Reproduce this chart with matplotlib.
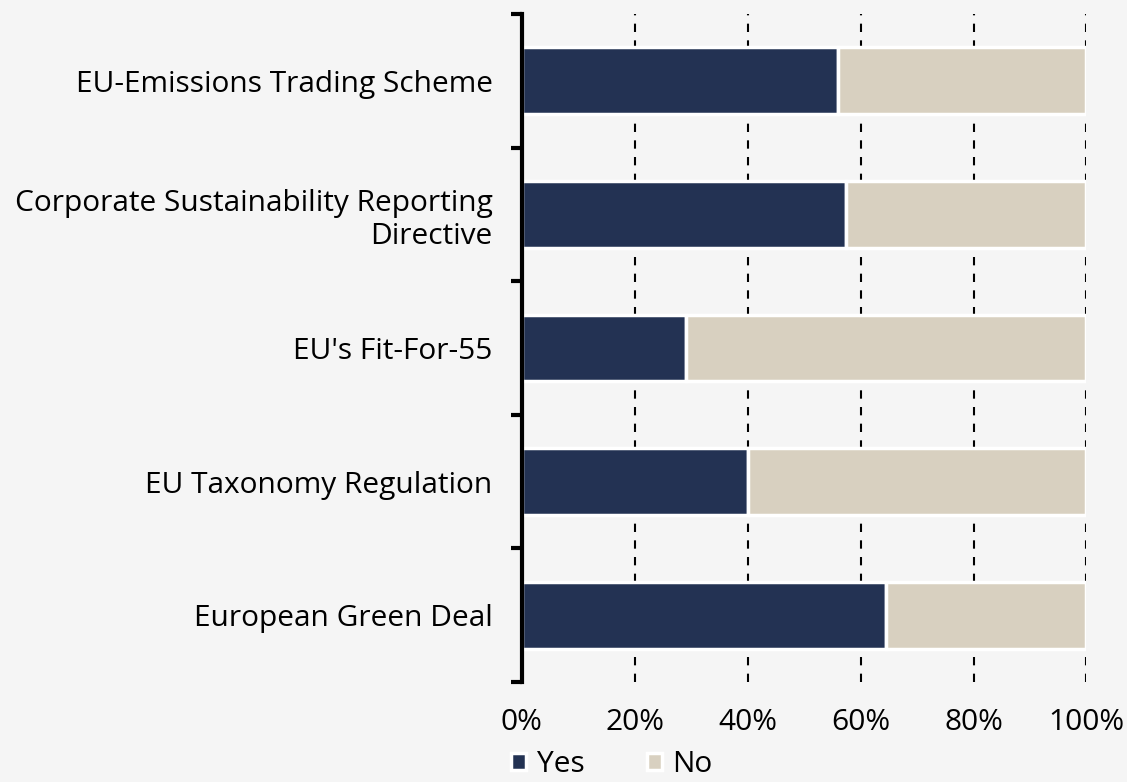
import matplotlib.pyplot as plt
import numpy as np
from matplotlib.ticker import FixedLocator, PercentFormatter

plt.rcParams['font.family'] = ['Open Sans', 'DejaVu Sans']

# datos (de arriba hacia abajo)
categorias = ['EU-Emissions Trading Scheme',
              'Corporate Sustainability Reporting\nDirective',
              "EU's Fit-For-55",
              'EU Taxonomy Regulation',
              'European Green Deal']
si = [56, 57.5, 29, 40, 64.5]
no = [100 - v for v in si]

color_si = '#233253'
color_no = '#d8d0c0'
fondo = '#f5f5f5'

fig = plt.figure(figsize=(11.27, 7.82), dpi=100, facecolor=fondo)
ax = fig.add_axes([0.463, 0.128, 0.501, 0.854], facecolor=fondo)

y = np.arange(len(categorias))[::-1]
ax.barh(y, si, height=0.5, color=color_si, edgecolor='white', linewidth=2.5,
        label='Yes', zorder=3)
ax.barh(y, no, left=si, height=0.5, color=color_no, edgecolor='white',
        linewidth=2.5, label='No', zorder=3)

ax.set_xlim(0, 100)
ax.set_ylim(-0.5, len(categorias) - 0.5)

# grilla punteada vertical
for xv in [20, 40, 60, 80, 100]:
    ax.axvline(xv, color='black', linestyle=(0, (4, 4)), linewidth=1.5,
               zorder=1)

for s in ['top', 'right', 'bottom']:
    ax.spines[s].set_visible(False)
ax.spines['left'].set_linewidth(3)
ax.spines['left'].set_zorder(4)

ax.set_xticks([0, 20, 40, 60, 80, 100])
ax.xaxis.set_major_formatter(PercentFormatter(decimals=0))
ax.tick_params(axis='x', length=0, pad=19, labelsize=21.5)

ax.set_yticks(y)
ax.set_yticklabels(categorias, fontsize=21.5, linespacing=1.2)
ax.tick_params(axis='y', which='major', length=0, pad=21)
ax.yaxis.set_minor_locator(FixedLocator(np.arange(-0.5, len(categorias), 1)))
ax.tick_params(axis='y', which='minor', length=8, width=3, direction='out')

fig.legend(loc='lower center', bbox_to_anchor=(0.543, -0.031), ncol=2,
           frameon=False, fontsize=21.5, handlelength=0.5, handleheight=0.5,
           handletextpad=0.35, columnspacing=2.1)

fig.savefig('out.png', dpi=100, facecolor=fondo)
